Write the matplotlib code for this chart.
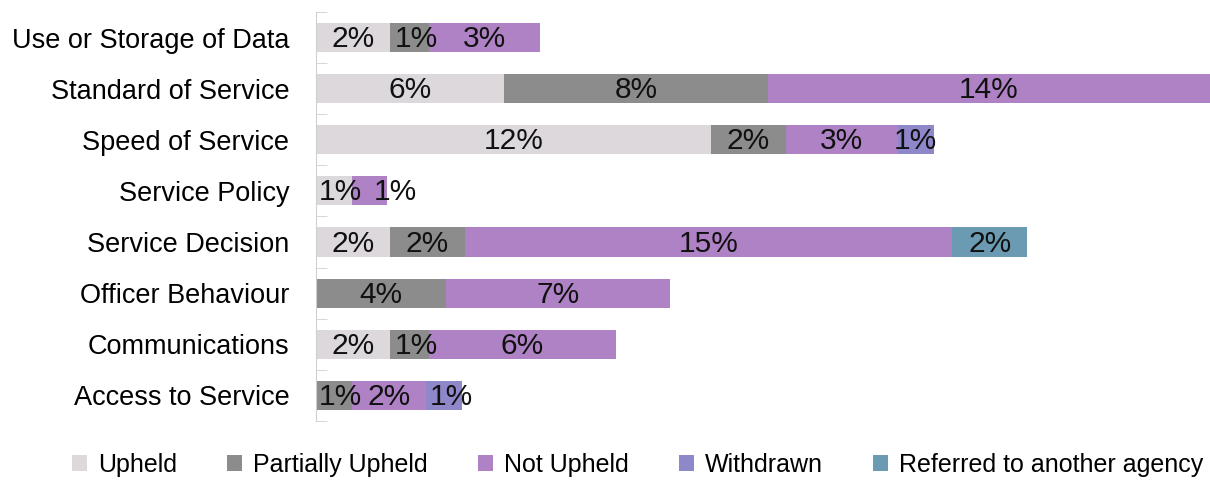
import matplotlib.pyplot as plt
import numpy as np

plt.rcParams["font.family"] = ["Liberation Sans", "DejaVu Sans"]

categories = [
    "Use or Storage of Data",
    "Standard of Service",
    "Speed of Service",
    "Service Policy",
    "Service Decision",
    "Officer Behaviour",
    "Communications",
    "Access to Service",
]
series = ["Upheld", "Partially Upheld", "Not Upheld", "Withdrawn", "Referred to another agency"]

# percentages (labels are the rounded values)
upheld = [2.28, 5.8, 12.15, 1.1, 2.28, 0.0, 2.28, 0.0]
partially_upheld = [1.2, 8.1, 2.3, 0.0, 2.3, 4.0, 1.2, 1.1]
not_upheld = [3.4, 13.6, 3.45, 1.1, 15.0, 6.9, 5.75, 2.3]
withdrawn = [0.0, 0.0, 1.1, 0.0, 0.0, 0.0, 0.0, 1.1]
referred = [0.0, 0.0, 0.0, 0.0, 2.3, 0.0, 0.0, 0.0]

colors = ["#dcd8dc", "#8c8c8c", "#ae82c4", "#8e87ca", "#6b9bb2"]

fig = plt.figure(figsize=(12.1, 4.8), dpi=100)
ax = fig.add_axes([0.261, 0.123, 0.739, 0.852])

y = np.arange(len(categories))
left = np.zeros(len(categories))
for si, (name, vals, c) in enumerate(zip(series, [upheld, partially_upheld, not_upheld, withdrawn, referred], colors)):
    vals = np.array(vals)
    ax.barh(y, vals, left=left, height=0.57, color=c, label=name)
    for yi, (l, v) in enumerate(zip(left, vals)):
        if v <= 0:
            continue
        # narrow segments: label nudged right a little, like the original
        dx = 0.22 if (v < 1.5 and yi != 2) else 0.0
        if yi == 3 and si == 2:  # Service Policy: second label pushed right
            dx = 0.8
        ax.text(l + v / 2 + dx, yi + 0.03, f"{round(v):d}%", ha="center", va="center",
                fontsize=21.5, color="#111111")
    left += vals

ax.set_ylim(len(categories) - 0.5, -0.5)
ax.set_xlim(0, 27.5)
ax.set_yticks(y)
ax.set_yticklabels(categories, fontsize=19.5)
ax.set_yticks(np.arange(-0.5, len(categories), 1), minor=True)
ax.tick_params(axis="y", which="major", length=0, pad=19)
ax.tick_params(axis="y", which="minor", direction="in", length=8, color="#d0d0d0")
ax.set_xticks([])
for s in ["top", "right", "bottom"]:
    ax.spines[s].set_visible(False)
ax.spines["left"].set_color("#d0d0d0")

fig.legend(loc="lower center", bbox_to_anchor=(0.527, -0.04), ncol=5, frameon=False,
           fontsize=18, handlelength=0.6, handleheight=0.6, handletextpad=0.45,
           columnspacing=2.0)

fig.savefig("out.png", dpi=100)
